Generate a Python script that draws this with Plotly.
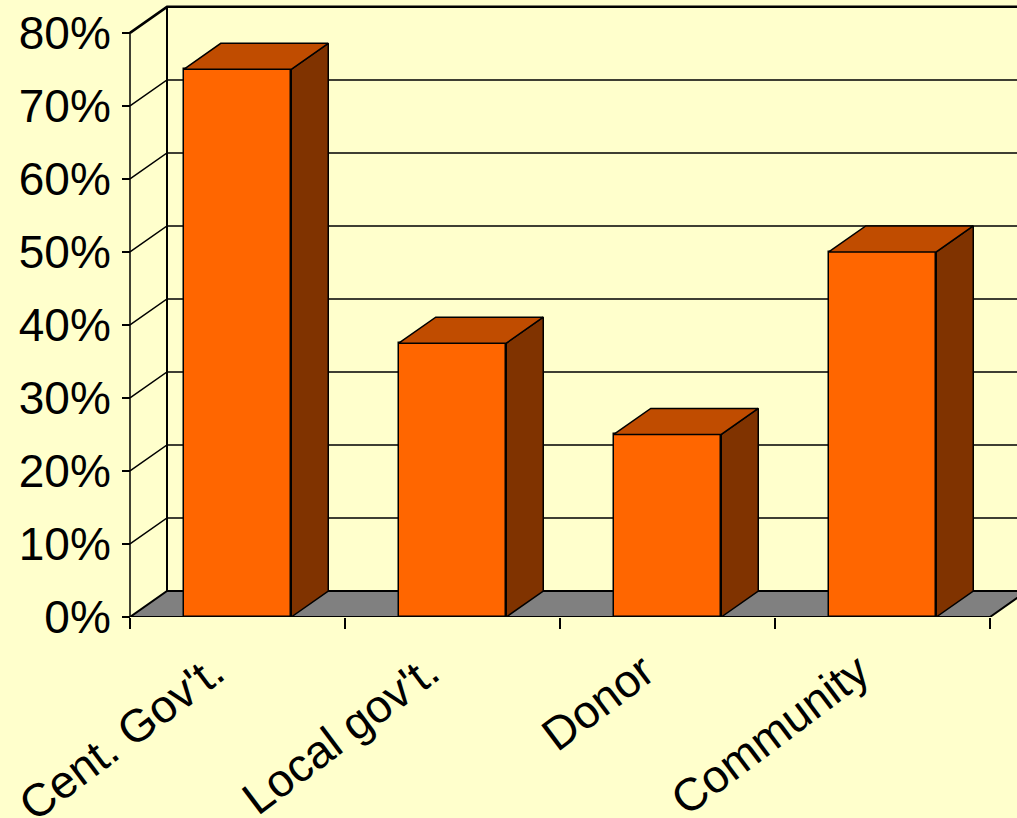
import plotly.graph_objects as go

# ---- data ----
categories = ["Cent. Gov't.", "Local gov't.", "Donor", "Community"]
values = [0.75, 0.375, 0.25, 0.50]
y_ticks = [0, 0.1, 0.2, 0.3, 0.4, 0.5, 0.6, 0.7, 0.8]
y_tick_labels = ["0%", "10%", "20%", "30%", "40%", "50%", "60%", "70%", "80%"]

# ---- styling / geometry ----
W, H = 1017, 818
ML, MR, MT, MB = 0, 0, 0, 201
PX_PER_CAT = 215.0
AXIS_PX = 130  # front y axis pixel position
X0 = -0.5 - AXIS_PX / PX_PER_CAT
X1 = X0 + (W - ML - MR) / PX_PER_CAT
Y_TOP = 0.845
PX_PER_VAL = (H - MT - MB) / Y_TOP
DX = 37 / PX_PER_CAT        # depth offset in category units
DY = 26 / PX_PER_VAL        # depth offset in value units
BAR_W = 0.5

BG = "#FFFFCC"
FRONT = "#FF6600"
TOP = "#C04C00"
SIDE = "#803300"
FLOOR = "#808080"
FONT = "Liberation Sans, Arial, sans-serif"

n = len(categories)
xs = list(range(n))
left, right = -0.5, n - 0.5
ymax = max(y_ticks)

shapes = []
# floor
shapes.append(dict(type="path", xref="x", yref="y", layer="below",
                   path=f"M{left},0 L{right},0 L{right+DX},{DY} L{left+DX},{DY} Z",
                   fillcolor=FLOOR, line=dict(color="black", width=2)))
# gridlines on side wall + back wall
for v in y_ticks[1:]:
    shapes.append(dict(type="path", xref="x", yref="y", layer="below",
                       path=f"M{left},{v} L{left+DX},{v+DY} L{X1+1},{v+DY}",
                       line=dict(color="black", width=1.5 if v < ymax else 2.5)))
# back wall left edge
shapes.append(dict(type="line", xref="x", yref="y", layer="below",
                   x0=left + DX, y0=DY, x1=left + DX, y1=ymax + DY,
                   line=dict(color="black", width=2)))
# front y axis line
shapes.append(dict(type="line", xref="x", yref="y", layer="below",
                   x0=left, y0=0, x1=left, y1=ymax,
                   line=dict(color="black", width=1.5)))

fig = go.Figure()

# front faces
fig.add_trace(go.Bar(x=xs, y=values, width=BAR_W,
                     marker=dict(color=FRONT, line=dict(color="black", width=1.5)),
                     showlegend=False, hoverinfo="skip"))

# side and top faces
for x, v in zip(xs, values):
    xl, xr = x - BAR_W / 2, x + BAR_W / 2
    fig.add_trace(go.Scatter(
        x=[xr, xr + DX, xr + DX, xr, xr],
        y=[0, DY, v + DY, v, 0],
        mode="lines", fill="toself", fillcolor=SIDE,
        line=dict(color="black", width=1.5), showlegend=False, hoverinfo="skip"))
    fig.add_trace(go.Scatter(
        x=[xl, xr, xr + DX, xl + DX, xl],
        y=[v, v, v + DY, v + DY, v],
        mode="lines", fill="toself", fillcolor=TOP,
        line=dict(color="black", width=1.5), showlegend=False, hoverinfo="skip"))

# invisible trace for label axis
fig.add_trace(go.Scatter(x=xs, y=values, xaxis="x2", mode="markers",
                         marker=dict(opacity=0), showlegend=False, hoverinfo="skip"))

fig.update_layout(
    width=W, height=H,
    margin=dict(l=ML, r=MR, t=MT, b=MB, pad=0, autoexpand=False),
    paper_bgcolor=BG, plot_bgcolor=BG,
    font=dict(family=FONT, color="black"),
    shapes=shapes,
    bargap=0,
    xaxis=dict(range=[X0, X1], tickmode="array",
               tickvals=[i - 0.5 for i in range(n + 1)],
               showticklabels=False, ticks="outside", ticklen=11,
               tickwidth=1.5, tickcolor="black", automargin=False,
               showgrid=False, zeroline=False, showline=False, fixedrange=True),
    xaxis2=dict(range=[X0, X1], overlaying="x", side="bottom", anchor="y",
                tickmode="array", tickvals=xs, ticktext=categories,
                tickangle=-37, ticks="", tickfont=dict(size=46, family=FONT),
                ticklabelstandoff=18, ticklabelshift=-24, automargin=False,
                showgrid=False, zeroline=False, showline=False, fixedrange=True),
    yaxis=dict(range=[0, Y_TOP], tickmode="array", tickvals=y_ticks,
               ticktext=y_tick_labels, anchor="free",
               position=AXIS_PX / (W - ML - MR),
               ticks="outside", ticklen=8, tickwidth=1.5, tickcolor="black",
               ticklabelstandoff=2, automargin=False,
               tickfont=dict(size=46, family=FONT),
               showgrid=False, zeroline=False, showline=False, fixedrange=True),
)

fig.write_html("out.html", config={"displayModeBar": False},
               post_script="document.body.style.margin='0';")
